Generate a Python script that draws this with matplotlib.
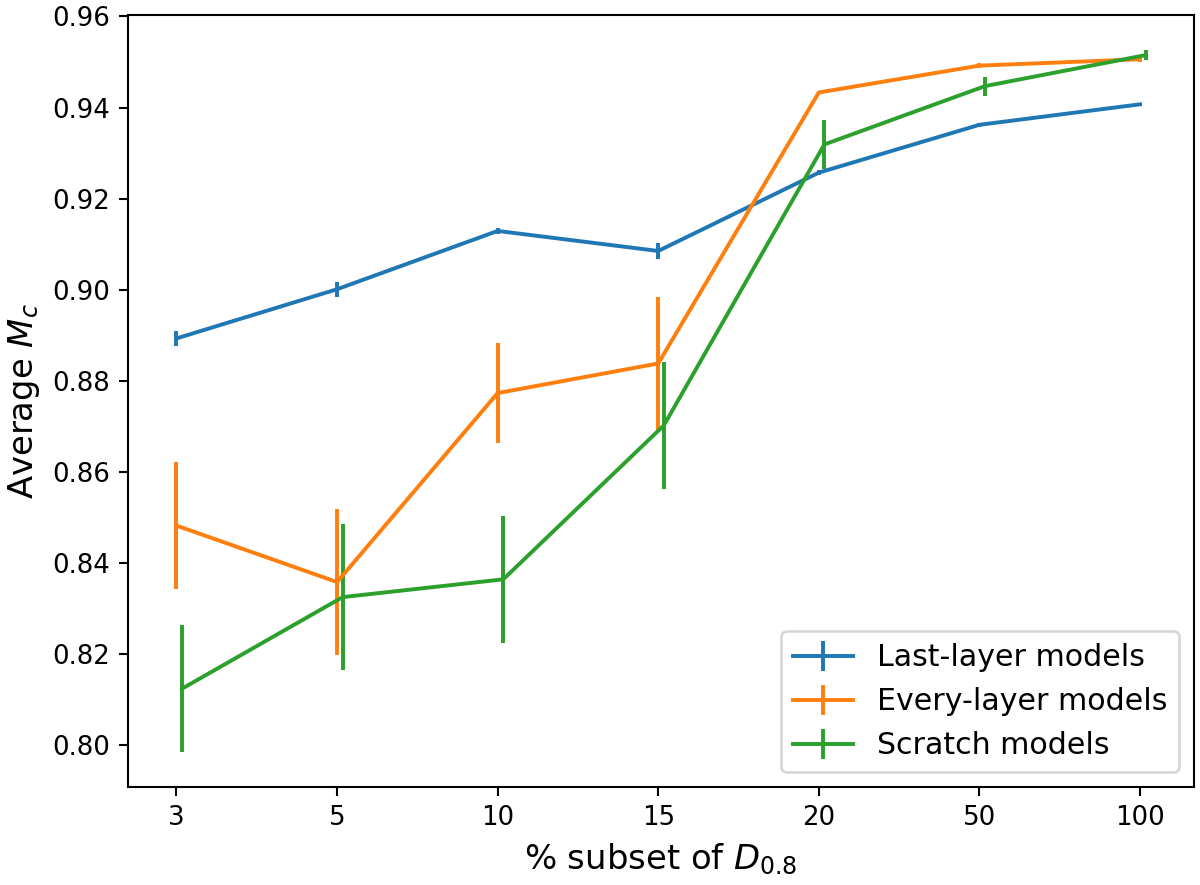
import numpy as np
import matplotlib
matplotlib.use('Agg')
import matplotlib.pyplot as plt


# % subsets of D_0.8 used on the x axis (categorical)
subsets = ['3', '5', '10', '15', '20', '50', '100']

# Last-layer models
last_mean = [0.8893, 0.9001, 0.9129, 0.9085, 0.9257, 0.9362, 0.9407]
last_err = [0.0017, 0.0016, 0.0006, 0.0018, 0.0006, 0.0004, 0.0004]

# Every-layer models
every_mean = [0.8482, 0.8358, 0.8773, 0.8838, 0.9433, 0.9492, 0.9506]
every_err = [0.0140, 0.0160, 0.0110, 0.0147, 0.0004, 0.0005, 0.0007]

# Scratch models
scratch_mean = [0.8124, 0.8325, 0.8364, 0.8702, 0.9319, 0.9447, 0.9515]
scratch_err = [0.0139, 0.0160, 0.0139, 0.0140, 0.0054, 0.0021, 0.0011]

x = np.arange(len(subsets))
shift = 0.035  # small offset so the scratch error bars do not overlap

fig, ax = plt.subplots(figsize=(6.4, 4.72), dpi=187.5)
plt.subplots_adjust(left=0.1067, right=0.995, top=0.983, bottom=0.1107)

ax.errorbar(x, last_mean, yerr=last_err, label='Last-layer models')
ax.errorbar(x, every_mean, yerr=every_err, label='Every-layer models')
ax.errorbar(x + shift, scratch_mean, yerr=scratch_err, label='Scratch models')

ax.set_xticks(x)
ax.set_xticklabels(subsets)
ax.tick_params(labelsize=10)
ax.set_xlabel('% subset of $D_{0.8}$', fontsize=13)
ax.set_ylabel('Average $M_c$', fontsize=13)
ax.legend(loc='lower right', fontsize=11.5)

plt.savefig('out.png')
